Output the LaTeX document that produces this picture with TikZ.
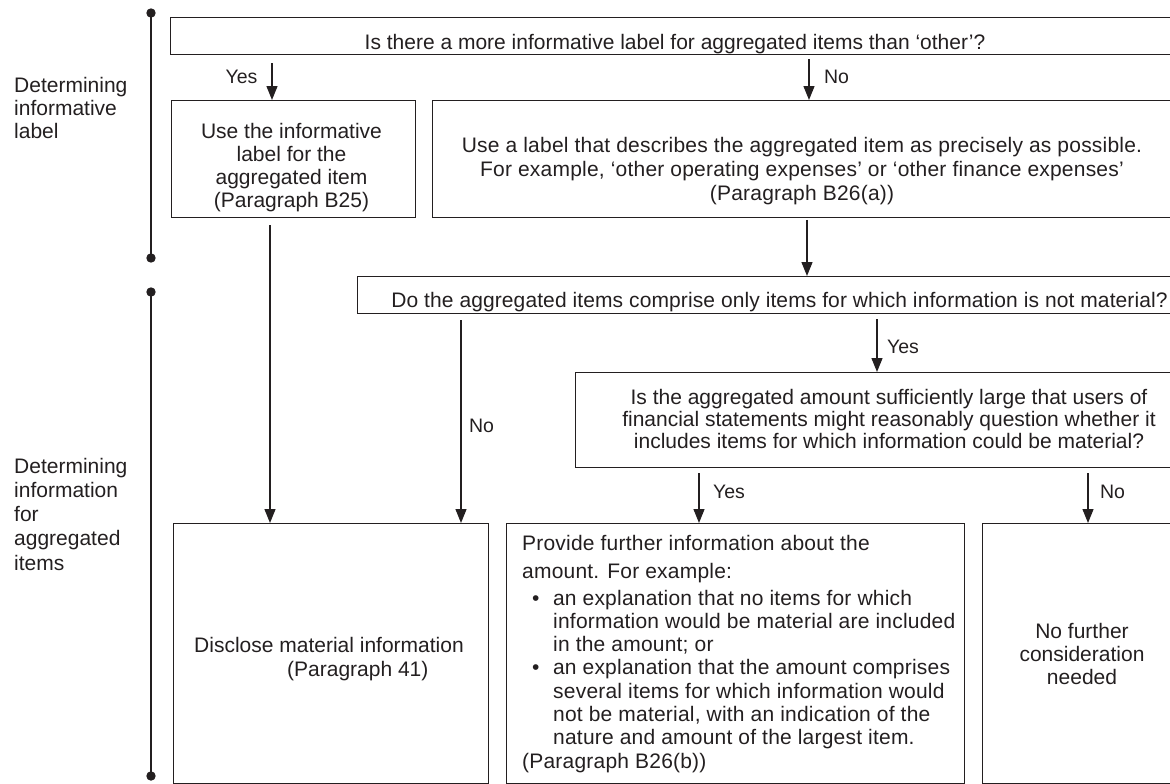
\documentclass[tikz,border=0pt]{standalone}
\usepackage{fontspec}
\setmainfont{Liberation Sans}
\newfontfamily\lsA[LetterSpace=1.0]{Liberation Sans}
\newfontfamily\lsH[LetterSpace=0.5]{Liberation Sans}
\usetikzlibrary{arrows.meta}
\definecolor{ink}{RGB}{35,31,32}
\begin{document}
\begin{tikzpicture}[x=1pt,y=-1pt,
  font=\fontsize{21}{23.3}\selectfont,
  box/.style={draw=ink, line width=1.3pt, inner sep=0pt, anchor=north west},
  txt/.style={inner sep=0pt, align=center, text=ink, anchor=north},
  lbl/.style={inner sep=0pt, text=ink, anchor=base, font=\fontsize{19.5}{23}\selectfont},
  side/.style={inner sep=0pt, text=ink, align=left, anchor=north west, font=\fontsize{21}{23.3}\selectfont},
  arr/.style={draw=ink, line width=1.3pt, -{Triangle[length=14pt,width=11pt]}},
  bracket/.style={draw=ink, line width=1.8pt},
  dot/.style={fill=ink}]
\useasboundingbox (0,0) rectangle (1170,784);
\clip (0,0) rectangle (1170,784);

% section brackets
\coordinate (s1a) at (151,13);
\coordinate (s1b) at (151,258);
\coordinate (s2a) at (151,292);
\coordinate (s2b) at (151,776);
\draw[bracket] (s1a) -- (s1b);
\draw[bracket] (s2a) -- (s2b);
\fill[dot] (s1a) circle (4.7);
\fill[dot] (s1b) circle (4.7);
\fill[dot] (s2a) circle (4.7);
\fill[dot] (s2b) circle (4.7);

\node[side] (lab1) at (14,76.6) {Determining\\informative\\label};
\node[side, font=\fontsize{21}{24.3}\selectfont] (lab2) at (14,457.6) {Determining\\information\\for\\aggregated\\items};

% boxes
\node[box, minimum width=1010pt, minimum height=37pt] (q1) at (170,17) {};
\node[box, minimum width=244pt, minimum height=117pt] (b25) at (171,100) {};
\node[box, minimum width=748pt, minimum height=117pt] (b26a) at (432,100) {};
\node[box, minimum width=824pt, minimum height=37pt] (q2) at (357,276) {};
\node[box, minimum width=620pt, minimum height=95pt] (q3) at (575,372) {};
\node[box, minimum width=315pt, minimum height=260pt] (dis) at (173,523) {};
\node[box, minimum width=458pt, minimum height=260pt] (prov) at (506,523) {};
\node[box, minimum width=200pt, minimum height=260pt] (nof) at (982,523) {};

% texts
\node[txt, anchor=base] (q1t) at (675,49) {Is there a more informative label for aggregated items than ‘other’?};
\node[txt, font=\fontsize{21}{23.3}\selectfont] (b25t) at (291.5,122.6) {Use the informative\\label for the\\aggregated item\\(Paragraph B25)};
\node[txt, font=\lsA\fontsize{21}{24}\selectfont] (b26at) at (802,137) {Use a label that describes the aggregated item as precisely as possible.\\For example, ‘other operating expenses’ or ‘other finance expenses’\\(Paragraph B26(a))};
\node[txt, anchor=base, font=\lsH\fontsize{21}{23.3}\selectfont] (q2t) at (779.5,307.5) {Do the aggregated items comprise only items for which information is not material?};
\node[txt, font=\fontsize{21}{22}\selectfont] (q3t) at (889,388.6) {Is the aggregated amount sufficiently large that users of\\financial statements might reasonably question whether it\\includes items for which information could be material?};
\node[txt, align=left, anchor=north west, font=\fontsize{21}{24.5}\selectfont] (dist) at (194,636.6) {Disclose material information\\\hspace*{93pt}(Paragraph 41)};
\node[txt, align=left, anchor=north west, font=\lsA\fontsize{21}{23.3}\selectfont] (provt) at (522,534.6) {Provide further information about the\\[4.7pt]
amount. For example:\\[3.7pt]
\hspace*{10pt}•\hspace*{13.5pt}an explanation that no items for which\\
\hspace*{31pt}information would be material are included\\
\hspace*{31pt}in the amount; or\\
\hspace*{10pt}•\hspace*{13.5pt}an explanation that the amount comprises\\
\hspace*{31pt}several items for which information would\\
\hspace*{31pt}not be material, with an indication of the\\
\hspace*{31pt}nature and amount of the largest item.\\
(Paragraph B26(b))};
\node[txt] (nft) at (1082,622.6) {No further\\consideration\\needed};

% arrow x positions
\coordinate (xa) at (272,0);
\coordinate (xb) at (809,0);
\coordinate (xc) at (807,0);
\coordinate (xd) at (270,0);
\coordinate (xe) at (461,0);
\coordinate (xf) at (877,0);
\coordinate (xg) at (699,0);
\coordinate (xh) at (1088,0);

\draw[arr, shorten <=8pt] (q1.south -| xa) -- (b25.north -| xa);
\draw[arr, shorten <=4pt] (q1.south -| xb) -- (b26a.north -| xb);
\draw[arr, shorten <=1.5pt] (b26a.south -| xc) -- (q2.north -| xc);
\draw[arr, shorten <=7pt] (b25.south -| xd) -- (dis.north -| xd);
\draw[arr, shorten <=6pt] (q2.south -| xe) -- (dis.north -| xe);
\draw[arr, shorten <=5pt] (q2.south -| xf) -- (q3.north -| xf);
\draw[arr, shorten <=5pt] (q3.south -| xg) -- (prov.north -| xg);
\draw[arr, shorten <=5pt] (q3.south -| xh) -- (nof.north -| xh);

% arrow labels
\node[lbl] (yes1) at (241.5,83) {Yes};
\node[lbl] (no1) at (836.5,83) {No};
\node[lbl] (no2) at (481.5,432) {No};
\node[lbl] (yes2) at (903,353) {Yes};
\node[lbl] (yes3) at (729,498) {Yes};
\node[lbl] (no3) at (1112.5,498) {No};
\end{tikzpicture}
\end{document}
